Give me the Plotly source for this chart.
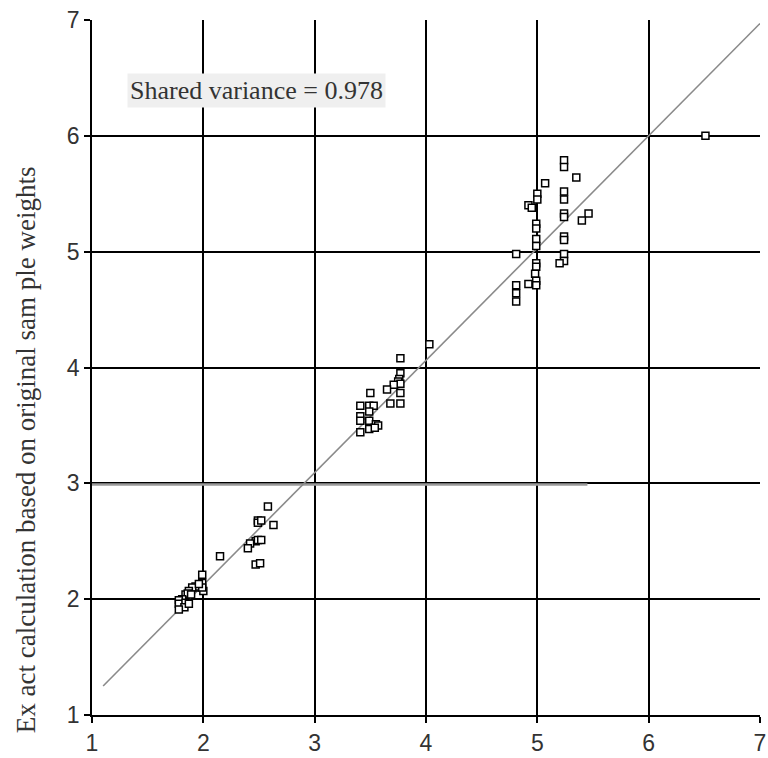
import plotly.graph_objects as go

# Data
approx_x = [5.24, 5.24, 5.35, 5.07, 5.24, 5.24, 5.00, 5.00, 4.92, 4.95, 5.24, 5.24, 5.46, 5.40,
            4.99, 4.99, 5.24, 5.24, 4.99, 4.99, 4.81, 5.24, 5.24, 5.20, 4.99, 4.99, 4.98, 4.99,
            4.92, 4.99, 4.81, 4.81, 4.81, 6.51,
            4.03, 3.77, 3.77, 3.76, 3.75, 3.77, 3.71, 3.65, 3.77, 3.50, 3.68, 3.77, 3.41, 3.49,
            3.53, 3.49, 3.41, 3.41, 3.49, 3.55, 3.57, 3.49, 3.54, 3.41,
            2.58, 2.49, 2.49, 2.52, 2.63, 2.47, 2.49, 2.52, 2.42, 2.40, 2.15, 2.47, 2.51,
            1.99, 1.99, 1.95, 1.93, 2.00, 1.99, 1.90, 1.87, 1.84, 1.86, 1.81, 1.78, 1.78, 1.84,
            1.83, 1.78, 1.87, 1.96, 1.89]
exact_y = [5.79, 5.73, 5.64, 5.59, 5.52, 5.45, 5.50, 5.45, 5.40, 5.38, 5.33, 5.30, 5.33, 5.27,
           5.24, 5.20, 5.13, 5.10, 5.11, 5.05, 4.98, 4.98, 4.92, 4.90, 4.90, 4.87, 4.81, 4.75,
           4.72, 4.71, 4.71, 4.64, 4.57, 6.00,
           4.20, 4.08, 3.95, 3.90, 3.88, 3.86, 3.85, 3.81, 3.78, 3.78, 3.69, 3.69, 3.67, 3.67,
           3.67, 3.62, 3.58, 3.54, 3.54, 3.51, 3.50, 3.47, 3.48, 3.44,
           2.80, 2.68, 2.66, 2.68, 2.64, 2.50, 2.51, 2.51, 2.48, 2.44, 2.37, 2.30, 2.31,
           2.21, 2.14, 2.10, 2.11, 2.07, 2.10, 2.10, 2.07, 2.04, 2.05, 2.00, 1.99, 1.96, 1.97,
           1.93, 1.91, 1.96, 2.13, 2.04]

fit_x = [1.1, 7.0]
fit_y = [1.25, 6.97]

ref_line_x = [1.0, 5.45]
ref_line_y = [2.99, 2.99]

tick_vals = [1, 2, 3, 4, 5, 6, 7]
tick_text = ["1", "2", "3", "4", "5", "6", "7"]

y_title = "Ex act calculation based on original sam ple weights"
note_text = "Shared variance = 0.978"

fig = go.Figure()

fig.add_trace(go.Scatter(x=ref_line_x, y=ref_line_y, mode="lines",
                         line=dict(color="#9a9a9a", width=2.5), hoverinfo="skip"))
fig.add_trace(go.Scatter(x=fit_x, y=fit_y, mode="lines",
                         line=dict(color="#8a8a8a", width=1.6), hoverinfo="skip"))
fig.add_trace(go.Scatter(x=approx_x, y=exact_y, mode="markers",
                         marker=dict(symbol="square", size=7, color="white",
                                     line=dict(color="black", width=1.5))))

axis_common = dict(
    range=[1, 7], tickvals=tick_vals, ticktext=tick_text,
    showgrid=True, gridcolor="black", gridwidth=1.8,
    showline=True, linecolor="black", linewidth=1.8,
    ticks="outside", ticklen=6, tickwidth=1.8, tickcolor="black",
    zeroline=False, mirror=False, ticklabeloverflow="allow",
    tickfont=dict(family="Liberation Sans, Arial", size=23, color="#333"),
)

W, H = 768, 758
L, R, T, B = 92, 2, 20, 36
fig.update_layout(
    width=W, height=H,
    margin=dict(l=L, r=R, t=T, b=B),
    paper_bgcolor="white", plot_bgcolor="white",
    showlegend=False,
    xaxis=dict(**axis_common),
    yaxis=dict(**axis_common),
    annotations=[
        dict(x=2.48, y=6.39, xref="x", yref="y", text=note_text, showarrow=False,
             font=dict(family="Liberation Serif, Times New Roman", size=26, color="#333"),
             bgcolor="#efefef", borderpad=2),
        dict(x=(25 - L) / (W - L - R), y=(H - B - 454) / (H - T - B),
             xref="paper", yref="paper", text=y_title, showarrow=False,
             textangle=-90, xanchor="center", yanchor="middle",
             font=dict(family="Liberation Serif, Times New Roman", size=27, color="#333")),
    ],
)

fig.write_html(
    "out.html",
    config={"displayModeBar": False},
    post_script=(
        "document.documentElement.style.overflow='hidden';"
        "document.body.style.margin='0';document.body.style.overflow='hidden';"
        "var d=document.getElementById('{plot_id}');"
        "d.style.position='fixed';d.style.left='0px';d.style.top='0px';"
    ),
)
